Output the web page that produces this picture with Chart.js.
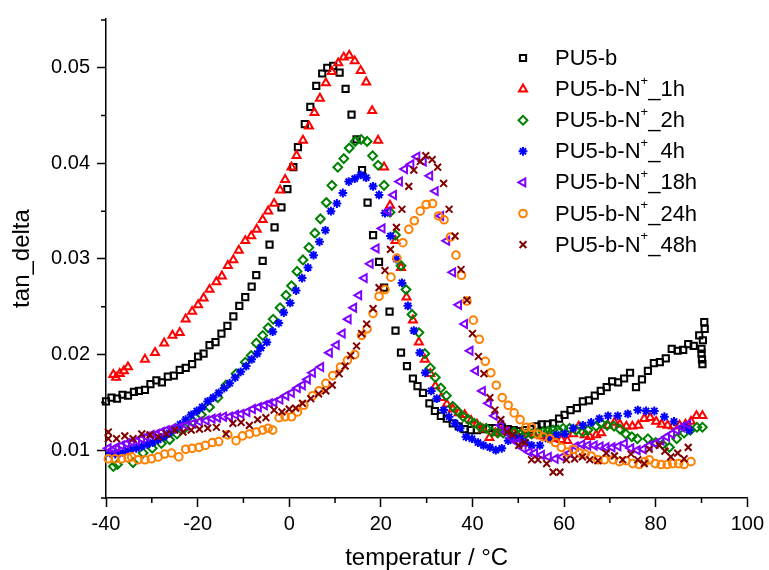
<!DOCTYPE html>
<html>
<head>
<meta charset="utf-8">
<script src="https://cdn.jsdelivr.net/npm/chart.js@4/dist/chart.umd.min.js"></script>
<style>
    html, body { margin: 0; padding: 0; background: #fff; }
    canvas { display: block; }
</style>
</head>
<body>
<canvas id="dma-chart" width="769" height="570"></canvas>
<script>
/* tan_delta vs. temperatur — PU5-b series (DMA) */

const seriesNames = ['PU5-b', 'PU5-b-N⁺_1h', 'PU5-b-N⁺_2h', 'PU5-b-N⁺_4h', 'PU5-b-N⁺_18h', 'PU5-b-N⁺_24h', 'PU5-b-N⁺_48h'];

const xMajorTicks = [-40, -20, 0, 20, 40, 60, 80, 100];
const xMinorTicks = [-30, -10, 10, 30, 50, 70, 90];
const yMajorTicks = [0.01, 0.02, 0.03, 0.04, 0.05];
const yMinorTicks = [0.005, 0.015, 0.025, 0.035, 0.045, 0.055];

// [temperatur, tan_delta]
const pu5b = [[-40,0.0151],[-38.8,0.0155],[-37.6,0.0154],[-36.4,0.0158],[-35.2,0.0157],[-33.9,0.0161],[-32.8,0.0162],[-31.5,0.0163],[-30.3,0.0169],[-29,0.0173],[-27.8,0.0171],[-26.5,0.0177],[-25.2,0.0178],[-23.9,0.0184],[-22.6,0.0186],[-21.2,0.019],[-19.9,0.0198],[-18.7,0.0201],[-17.4,0.021],[-16.1,0.0213],[-14.8,0.0222],[-13.5,0.023],[-12.2,0.024],[-10.9,0.0251],[-9.6,0.026],[-8.2,0.0271],[-7.2,0.0283],[-5.8,0.0298],[-4.3,0.0315],[-3.2,0.0333],[-1.7,0.0354],[-0.4,0.0373],[0.9,0.0396],[1.9,0.0417],[3.4,0.0441],[4.6,0.0459],[5.9,0.0481],[7.2,0.0494],[8.3,0.05],[9.6,0.0502],[11,0.0495],[12.3,0.0478],[13.6,0.0451],[14.7,0.0425],[15.9,0.0393],[17.1,0.0359],[18.3,0.0325],[19.6,0.0297],[20.7,0.027],[21.9,0.0245],[23.2,0.0225],[24.4,0.0202],[25.7,0.0188],[27,0.0175],[28,0.0167],[29.2,0.016],[30.6,0.0149],[31.8,0.0141],[33.1,0.0136],[34.4,0.0133],[35.7,0.0128],[37,0.0125],[38.3,0.0122],[39.6,0.0121],[41,0.0121],[42.3,0.0122],[43.6,0.0123],[45,0.0123],[46.4,0.0124],[47.7,0.0122],[49,0.0121],[50.3,0.012],[51.6,0.0121],[52.9,0.0122],[54,0.0125],[55.1,0.0127],[56.4,0.0127],[57.6,0.0128],[58.9,0.0133],[60.1,0.0137],[61.4,0.0142],[62.8,0.0144],[64.1,0.0151],[65.4,0.0152],[66.7,0.0157],[68,0.0162],[69.3,0.0166],[70.5,0.0172],[71.8,0.0171],[73.1,0.0175],[74.4,0.0181],[75.7,0.0166],[77,0.0174],[78.3,0.0183],[79.6,0.0191],[80.9,0.0192],[82.2,0.0196],[83.5,0.0206],[84.8,0.0204],[86,0.0205],[87.1,0.0211],[88.3,0.0209],[89.5,0.022],[90.6,0.0234],[90.7,0.0227],[90.3,0.0215],[90,0.0206],[90,0.0201],[90.1,0.0195],[90.2,0.019]];

const pu5b1h = [[-38.4,0.0179],[-37.8,0.0176],[-37,0.018],[-36.1,0.0183],[-35.2,0.0187],[-31.5,0.0195],[-29.3,0.0202],[-27.3,0.0212],[-25.5,0.022],[-23.9,0.0223],[-22.6,0.0237],[-21.2,0.0245],[-19.9,0.0252],[-18.7,0.0259],[-17.4,0.0268],[-15.9,0.0276],[-14.7,0.0282],[-13.4,0.0293],[-12.2,0.0299],[-11,0.0309],[-9.6,0.0319],[-8.3,0.0324],[-7.1,0.0331],[-5.8,0.0341],[-4.6,0.035],[-3.3,0.0358],[-2,0.0372],[-0.9,0.0383],[0.5,0.0396],[1.6,0.0408],[3,0.0424],[4.3,0.0439],[5.5,0.0453],[6.7,0.0468],[8,0.0484],[9.3,0.0496],[10.7,0.0505],[11.9,0.0511],[13.1,0.0513],[14.3,0.0507],[15.6,0.0497],[16.8,0.0485],[18.1,0.0455],[19.4,0.0424],[20.7,0.0396],[22,0.0356],[23.2,0.0319],[24.4,0.0291],[25.6,0.026],[27,0.0236],[28.3,0.0213],[29.6,0.0195],[30.8,0.018],[31.9,0.0167],[33.2,0.0155],[34.4,0.0148],[35.7,0.0143],[37,0.0139],[38.3,0.0137],[39.7,0.0131],[41,0.0127],[42.3,0.0122],[43.7,0.0113],[45,0.0118],[46.3,0.012],[47.5,0.0119],[49,0.0118],[50.5,0.0117],[52,0.0117],[53.5,0.0116],[55,0.0115],[56.5,0.0114],[58,0.0112],[59.4,0.0111],[60.7,0.011],[62,0.0117],[63.2,0.0125],[64.5,0.0116],[65.6,0.0114],[67,0.0116],[68.1,0.0118],[69.6,0.0126],[71,0.0129],[72.2,0.0127],[73.6,0.0125],[74.9,0.0125],[76.2,0.0126],[77.5,0.0133],[78.8,0.0134],[80.1,0.013],[81.3,0.0127],[82.6,0.0126],[83.8,0.0125],[85.2,0.0126],[86.5,0.0127],[87.7,0.013],[88.9,0.0136],[90.2,0.0136]];

const pu5b2h = [[-38.4,0.0083],[-37.5,0.0085],[-34.1,0.0087],[-31.9,0.0097],[-29.9,0.0102],[-27.9,0.0107],[-26.1,0.0111],[-24.5,0.0117],[-22.8,0.0123],[-21,0.013],[-19.2,0.0137],[-17.4,0.0145],[-15.6,0.0155],[-13.8,0.0168],[-11.6,0.018],[-9.6,0.0192],[-8.3,0.0199],[-7.2,0.0212],[-5.8,0.022],[-4.6,0.0228],[-3.5,0.0237],[-2,0.0249],[-0.7,0.0262],[0.5,0.0272],[1.7,0.0287],[3,0.0299],[4.3,0.0312],[5.6,0.0327],[6.8,0.0342],[8.1,0.0359],[9.3,0.0377],[10.6,0.0396],[11.9,0.0405],[13.1,0.0416],[14.4,0.0423],[15.7,0.0425],[17,0.0423],[18.2,0.0408],[19.4,0.0398],[20.7,0.0377],[22,0.0349],[23.2,0.0325],[24.4,0.0293],[25.5,0.0268],[26.8,0.0242],[28.3,0.0223],[29.6,0.0201],[30.8,0.0186],[31.9,0.0176],[33.1,0.0165],[34.3,0.0157],[35.7,0.0146],[36.7,0.0141],[38,0.0135],[39.1,0.0132],[40.4,0.0128],[41.7,0.0124],[43,0.0123],[44.2,0.0119],[45.5,0.0118],[46.7,0.0118],[48,0.0118],[49.1,0.0119],[50.4,0.0117],[51.6,0.0117],[52.9,0.0117],[54.2,0.0118],[55.4,0.0119],[56.5,0.012],[57.6,0.0121],[58.7,0.0121],[59.8,0.0123],[61.2,0.0123],[62.6,0.0121],[64.1,0.0119],[65.2,0.0121],[67,0.0125],[68.1,0.0128],[69.4,0.0126],[70.9,0.0125],[72.2,0.0122],[73.5,0.0117],[74.8,0.0114],[76,0.0112],[78.3,0.0112],[80,0.0108],[81.5,0.0106],[83,0.0103],[84.6,0.0112],[86.2,0.0118],[87.6,0.0121],[89,0.0124],[90.2,0.0124]];

const pu5b4h = [[-39.1,0.0097],[-38,0.0096],[-37,0.0097],[-35.8,0.0099],[-34.6,0.0101],[-33.4,0.0102],[-32.2,0.0104],[-31,0.0106],[-29.8,0.0108],[-28.6,0.0111],[-27.4,0.0114],[-26.2,0.0118],[-25,0.0122],[-23.8,0.0127],[-22.6,0.0132],[-21.4,0.0137],[-20.2,0.0141],[-19,0.0145],[-17.8,0.0151],[-16.6,0.0155],[-15.4,0.016],[-14.2,0.0165],[-13,0.017],[-11.8,0.0176],[-10.6,0.0182],[-9.4,0.0188],[-8.2,0.0195],[-7,0.0201],[-6.2,0.0207],[-4.9,0.0213],[-3.6,0.0224],[-2.3,0.0233],[-1.2,0.0244],[0.2,0.0254],[1.5,0.0267],[2.8,0.028],[4.1,0.0291],[5.3,0.0304],[6.6,0.0318],[7.9,0.033],[9.1,0.035],[10.4,0.0358],[11.7,0.0369],[13,0.0381],[14.3,0.0384],[15.6,0.0388],[16.8,0.0385],[18.3,0.0376],[19.6,0.0367],[20.9,0.0348],[22.1,0.0324],[23.4,0.03],[24.6,0.0275],[25.9,0.0251],[27.2,0.0225],[28.5,0.0202],[29.7,0.0181],[31,0.0162],[32.2,0.0154],[33.7,0.0142],[34.9,0.0135],[36.2,0.0128],[37.3,0.0123],[38.6,0.0114],[39.9,0.0112],[41.2,0.0108],[42.4,0.0105],[43.8,0.0103],[45.1,0.01],[46.4,0.0102],[47.8,0.011],[49.1,0.0113],[50.4,0.0112],[51.6,0.0108],[52.9,0.0105],[54.7,0.0105],[56.5,0.0112],[58.3,0.0116],[60.1,0.0117],[62,0.0123],[64.1,0.0126],[65.9,0.0129],[67.7,0.0133],[69.6,0.0136],[71.7,0.0136],[73.9,0.0138],[76.1,0.0142],[77.9,0.0141],[79.7,0.0141],[81.9,0.0135],[84,0.013],[86.2,0.0125],[87.3,0.0121]];

const pu5b18h = [[-39.5,0.0102],[-38.4,0.0101],[-37.7,0.0103],[-36.6,0.0105],[-35.5,0.0107],[-34.4,0.0109],[-33.3,0.011],[-32.2,0.0112],[-31.2,0.0114],[-30.1,0.0116],[-29,0.0117],[-27.9,0.0119],[-26.8,0.0121],[-25.4,0.0123],[-23.9,0.0124],[-22.5,0.0126],[-21,0.0128],[-19.6,0.013],[-18.1,0.0131],[-16.8,0.0133],[-15.6,0.0134],[-14.3,0.0135],[-13,0.0135],[-11.7,0.0137],[-10.5,0.0138],[-9.2,0.014],[-8,0.0143],[-6.7,0.0145],[-5.4,0.0147],[-4.3,0.0149],[-3.3,0.015],[-2,0.0153],[-0.7,0.0157],[0.5,0.016],[1.8,0.0165],[2.9,0.0168],[4,0.0174],[5.1,0.0181],[6.9,0.0187],[8.8,0.0202],[10.3,0.021],[11.6,0.0222],[12.9,0.0237],[14.1,0.0249],[15.2,0.0262],[16.4,0.028],[17.7,0.0295],[19,0.0311],[20.3,0.0332],[21.6,0.035],[22.8,0.0367],[24.1,0.0381],[25.2,0.0394],[26.6,0.0399],[27.9,0.0407],[29.3,0.0402],[30.7,0.0387],[31.9,0.0371],[33.1,0.0345],[34.4,0.0319],[35.7,0.0286],[37,0.0252],[38.3,0.0232],[39.5,0.0204],[40.7,0.0183],[42.2,0.0162],[43.5,0.0149],[44.8,0.0136],[46.2,0.0126],[47.4,0.0119],[48.5,0.0113],[49.8,0.0108],[51.1,0.0102],[52.4,0.0098],[53.6,0.0097],[55.1,0.0095],[56.6,0.0093],[58.1,0.0091],[59.6,0.0093],[61.2,0.0097],[62.5,0.0104],[63.9,0.0106],[65.2,0.0105],[66.6,0.0105],[67.9,0.0104],[69.2,0.0103],[70.5,0.0103],[71.8,0.0104],[73.2,0.0107],[74.6,0.0102],[76,0.01],[77.3,0.0101],[78.6,0.0105],[79.9,0.0107],[81.2,0.011],[82.4,0.0114],[83.5,0.0117],[84.6,0.0121],[85.7,0.0124],[87,0.0127]];

const pu5b24h = [[-39.5,0.0091],[-38,0.0091],[-36.6,0.0091],[-35.2,0.0092],[-34.4,0.0093],[-33,0.009],[-31.5,0.009],[-30.1,0.0091],[-28.6,0.0093],[-27.2,0.0096],[-25.7,0.0097],[-24.1,0.0093],[-22.6,0.0101],[-21.2,0.0102],[-19.7,0.0103],[-18.3,0.0105],[-16.8,0.0108],[-15.4,0.0109],[-13.4,0.0116],[-11.6,0.011],[-10.2,0.0115],[-8.7,0.0117],[-7.2,0.0119],[-5.8,0.0121],[-4.6,0.0123],[-3.6,0.0121],[-2.2,0.0134],[-0.9,0.0135],[0.5,0.0135],[1.8,0.014],[3.2,0.0147],[5.1,0.0157],[6.5,0.0162],[8,0.017],[9.5,0.0178],[11.2,0.0187],[12.7,0.0194],[14.3,0.02],[15.8,0.022],[17,0.0227],[18.3,0.0243],[19.6,0.0261],[20.9,0.0268],[22.2,0.0281],[23.5,0.0301],[24.8,0.0317],[26.1,0.0331],[27.3,0.034],[28.6,0.035],[29.9,0.0357],[31.3,0.0358],[32.6,0.0345],[33.8,0.0341],[35.2,0.0323],[36.4,0.0304],[37.6,0.0283],[38.8,0.0256],[40.2,0.0236],[41.5,0.0216],[42.8,0.0193],[44,0.0181],[45.2,0.0168],[46.5,0.0155],[47.8,0.0147],[49.1,0.0139],[50.4,0.0132],[51.7,0.0124],[52.9,0.0124],[54.2,0.0117],[55.4,0.0114],[56.9,0.0112],[58.1,0.0108],[59.4,0.0103],[60.7,0.0098],[62,0.0101],[63.4,0.0097],[64.6,0.0096],[65.9,0.0094],[67.4,0.009],[68.8,0.009],[70.7,0.009],[72.1,0.0088],[73.5,0.0089],[75,0.0086],[76.4,0.0085],[77.6,0.0088],[78.6,0.009],[79.9,0.0086],[81.2,0.0085],[82.5,0.0085],[83.7,0.0086],[85,0.0086],[86.2,0.0085],[87.7,0.0088]];

const pu5b48h = [[-39.5,0.0119],[-39.5,0.0112],[-37.7,0.0112],[-35.9,0.0115],[-34.1,0.0112],[-32.2,0.0117],[-30.4,0.0116],[-28.6,0.0114],[-26.8,0.0117],[-25,0.0121],[-23.2,0.0119],[-21.4,0.0121],[-19.6,0.0122],[-17.8,0.0123],[-15.9,0.0124],[-13.8,0.0117],[-12.3,0.0128],[-10.5,0.0129],[-8.7,0.0126],[-6.9,0.0132],[-5.1,0.0134],[-3.3,0.0142],[-1.6,0.014],[0,0.0143],[1.4,0.0144],[2.9,0.0149],[4.7,0.0154],[6.4,0.0159],[8,0.0162],[9.4,0.0168],[10.9,0.018],[12.2,0.0188],[13.4,0.0199],[14.7,0.0209],[15.8,0.0222],[16.9,0.0232],[18.3,0.0248],[19.6,0.027],[20.9,0.0288],[22.1,0.031],[23.4,0.0333],[24.6,0.0352],[26.1,0.0376],[27.2,0.0393],[28.6,0.0402],[29.8,0.0408],[31.2,0.0404],[32.4,0.0396],[33.7,0.0379],[34.9,0.0352],[36.2,0.0324],[37.5,0.0289],[38.8,0.0257],[40,0.0222],[41.3,0.0198],[42.5,0.018],[43.8,0.0155],[44.9,0.0142],[46.2,0.0132],[47.6,0.0119],[48.8,0.0116],[50.1,0.0105],[51.4,0.0108],[52.9,0.009],[54.3,0.009],[56.2,0.0086],[57.6,0.0077],[59.1,0.0077],[60.5,0.009],[62.3,0.0091],[64,0.0093],[65.6,0.009],[67.4,0.0089],[69.2,0.0097],[71,0.0094],[72.8,0.009],[74.6,0.0096],[76.1,0.009],[77.5,0.0086],[78.6,0.0101],[80.8,0.0105],[82,0.0099],[83.3,0.0093],[84.8,0.0097],[86.2,0.0091],[87.1,0.0103]];

const FONT = "'Liberation Sans', Arial, sans-serif";

const seriesStyles = [
    { data: pu5b,    color: '#000000', pointStyle: 'rect',     rotation: 0,   radius: 4.4 },
    { data: pu5b1h,  color: '#ff0000', pointStyle: 'triangle', rotation: 0,   radius: 4.6 },
    { data: pu5b2h,  color: '#008000', pointStyle: 'rectRot',  rotation: 0,   radius: 4.4 },
    { data: pu5b4h,  color: '#0000ff', pointStyle: 'star',     rotation: 0,   radius: 4.4 },
    { data: pu5b18h, color: '#8000ff', pointStyle: 'triangle', rotation: -90, radius: 4.6 },
    { data: pu5b24h, color: '#ff8000', pointStyle: 'circle',   rotation: 0,   radius: 3.8 },
    { data: pu5b48h, color: '#800000', pointStyle: 'crossRot', rotation: 0,   radius: 4.8 }
];

// short minor ticks, taken from the axis scales
const minorTicks = {
    id: 'minorTicks',
    afterDraw(chart) {
        const { ctx, chartArea, scales: { x, y } } = chart;
        ctx.save();
        ctx.strokeStyle = '#000';
        ctx.lineWidth = 1.5;
        ctx.beginPath();
        yMinorTicks.forEach(v => {
            const py = y.getPixelForValue(v);
            ctx.moveTo(chartArea.left - 5, py); ctx.lineTo(chartArea.left, py);
        });
        xMinorTicks.forEach(v => {
            const px = x.getPixelForValue(v);
            ctx.moveTo(px, chartArea.bottom); ctx.lineTo(px, chartArea.bottom + 5);
        });
        ctx.stroke();
        ctx.restore();
    }
};

// legend inside the plot, upper right, with N⁺ drawn as a raised plus
const insideLegend = {
    id: 'insideLegend',
    afterDraw(chart) {
        const { ctx } = chart;
        const markX = 523, textX = 555, top = 58, step = 31.1;
        ctx.save();
        chart.data.datasets.forEach((ds, i) => {
            const cy = top + i * step;
            ctx.strokeStyle = ds.borderColor;
            ctx.fillStyle = 'rgba(0,0,0,0)';
            ctx.lineWidth = ds.borderWidth;
            Chart.helpers.drawPoint(ctx, { pointStyle: ds.pointStyle, rotation: ds.rotation, radius: ds.pointRadius, borderWidth: ds.borderWidth }, markX, cy);

            ctx.fillStyle = '#000';
            ctx.textBaseline = 'middle';
            ctx.textAlign = 'left';
            const [head, tail] = ds.label.split('⁺');
            ctx.font = `22px ${FONT}`;
            ctx.fillText(head, textX, cy + 1);
            let tx = textX + ctx.measureText(head).width;
            if (tail !== undefined) {
                ctx.font = `13px ${FONT}`;
                ctx.fillText('+', tx, cy - 8);
                tx += ctx.measureText('+').width;
                ctx.font = `22px ${FONT}`;
                ctx.fillText(tail, tx, cy + 1);
            }
        });
        ctx.restore();
    }
};

const axisStyle = {
    border: { display: true, color: '#000', width: 1.5 },
    grid: { display: true, drawOnChartArea: false, drawTicks: true, tickLength: 9, tickWidth: 1.5, tickColor: '#000' }
};

new Chart(document.getElementById('dma-chart'), {
    type: 'scatter',
    data: {
        datasets: seriesStyles.map((s, i) => ({
            label: seriesNames[i],
            data: s.data.map(([x, y]) => ({ x, y })),
            borderColor: s.color,
            backgroundColor: 'rgba(0,0,0,0)',
            pointStyle: s.pointStyle,
            rotation: s.rotation,
            pointRadius: s.radius,
            borderWidth: 2,
            clip: false,
            order: seriesStyles.length - i
        }))
    },
    options: {
        responsive: false,
        animation: false,
        layout: { padding: { left: 0, right: 19, top: 17, bottom: 0 } },
        plugins: { legend: { display: false }, tooltip: { enabled: false } },
        scales: {
            x: {
                type: 'linear', position: 'bottom', min: -40, max: 100,
                afterBuildTicks: s => { s.ticks = xMajorTicks.map(v => ({ value: v })); },
                afterFit: s => { s.height = 72; },
                ticks: { color: '#000', font: { family: FONT, size: 20 }, padding: 5 },
                title: { display: true, text: 'temperatur / °C', color: '#000', font: { family: FONT, size: 24 }, padding: { top: 0, bottom: -3 } },
                ...axisStyle
            },
            y: {
                type: 'linear', position: 'left', min: 0.005, max: 0.0551,
                afterBuildTicks: s => { s.ticks = yMajorTicks.map(v => ({ value: v })); },
                afterFit: s => { s.width = 106; },
                ticks: { color: '#000', font: { family: FONT, size: 20 }, padding: 7, callback: v => v.toFixed(2) },
                title: { display: true, text: 'tan_delta', color: '#000', font: { family: FONT, size: 24 }, padding: { top: 8, bottom: 0 } },
                ...axisStyle
            }
        }
    },
    plugins: [minorTicks, insideLegend]
});
</script>
</body>
</html>
